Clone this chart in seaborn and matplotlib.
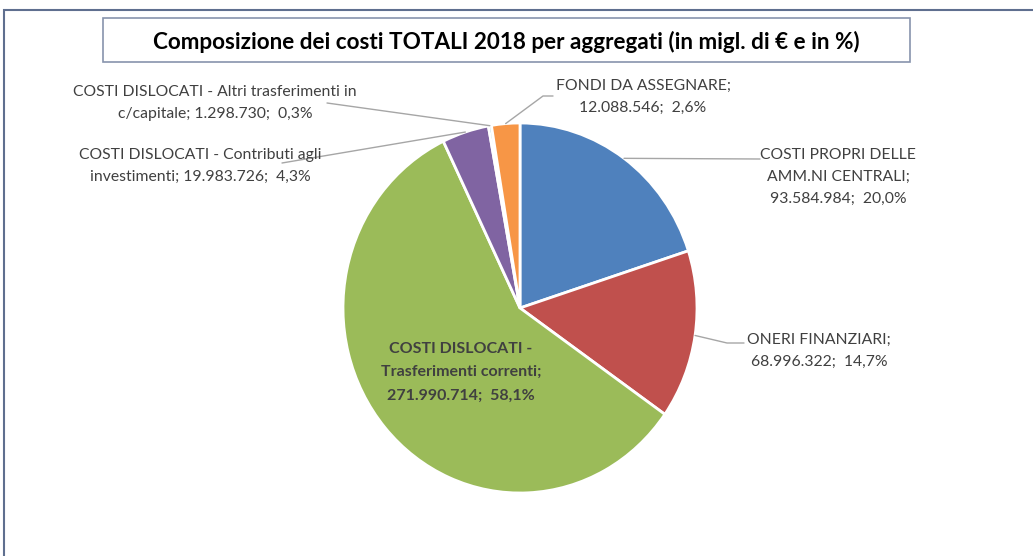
import matplotlib
matplotlib.use('Agg')
import matplotlib.pyplot as plt
import seaborn as sns
import numpy as np
from matplotlib.lines import Line2D
from matplotlib.patches import Rectangle

# dati (migliaia di euro)
categorie = ['COSTI PROPRI DELLE\nAMM.NI CENTRALI', 'ONERI FINANZIARI',
             'COSTI DISLOCATI -\nTrasferimenti correnti',
             'COSTI DISLOCATI - Contributi agli\ninvestimenti',
             'COSTI DISLOCATI - Altri trasferimenti in\nc/capitale',
             'FONDI DA ASSEGNARE']
valori = [93584984, 68996322, 271990714, 19983726, 1298730, 12088546]
colori = ['#4F81BD', '#C0504D', '#9BBB59', '#8064A2', '#4BACC6', '#F79646']
titolo = 'Composizione dei costi TOTALI 2018 per aggregati (in migl. di € e in %)'

sns.set_style('white')
plt.rcParams['font.family'] = ['Lato', 'DejaVu Sans']

W, H = 1033, 556
fig = plt.figure(figsize=(W / 100, H / 100), dpi=100)


def px(x, y):
    # pixel (origine in alto a sinistra) -> frazione della figura
    return x / W, 1 - y / H


def fmt(v):
    return f'{v:,}'.replace(',', '.')


totale = sum(valori)
perc = [v / totale * 100 for v in valori]
testi = []
for c, v, p in zip(categorie, valori, perc):
    ps = f'{p:.1f}'.replace('.', ',')
    if c.startswith('COSTI DISLOCATI - C') or c.startswith('COSTI DISLOCATI - A'):
        # la seconda riga prosegue con valore e percentuale
        t = f'{c}; {fmt(v)};  {ps}%'
    else:
        t = f'{c};\n{fmt(v)};  {ps}%'
    testi.append(t)

# cornice esterna e riquadro del titolo
fig.add_artist(Rectangle(px(4, 600), (1100 - 4) / W, (600 - 10) / H,
                         transform=fig.transFigure, fill=False,
                         edgecolor='#5f6f8f', linewidth=1.5))
fig.add_artist(Rectangle(px(103, 62), (910 - 103) / W, (62 - 18) / H,
                         transform=fig.transFigure, fill=False,
                         edgecolor='#8794ad', linewidth=1.2))
fig.text(*px(506, 42), titolo, ha='center', va='center', fontsize=16.2,
         fontweight='bold', color='black')

# torta (ellittica come nell'originale)
x0, y0 = px(343, 493)
x1, y1 = px(697, 123)
ax = fig.add_axes([x0, y0, x1 - x0, y1 - y0])
wedges, _ = ax.pie(valori, colors=colori, startangle=90, counterclock=False,
                   wedgeprops=dict(edgecolor='white', linewidth=2))
ax.set_aspect('auto')
ax.set_xlim(-1, 1)
ax.set_ylim(-1, 1)
ax.axis('off')

# posizioni etichette e punti delle linee guida (pixel)
pos_testo = [(838, 177), (819, 351), (461, 372), (200, 166), (215, 103), (643, 97)]
guide = [[(760, 159)], [(727, 343), (744, 343)], None,
         [(282, 163)], [(327, 103)], [(543, 96), (553, 96)]]

fig.canvas.draw()
to_fig = fig.transFigure.inverted()
col_testo = '#404040'
for i, w in enumerate(wedges):
    tx, ty = px(*pos_testo[i])
    if guide[i] is None:
        fig.text(tx, ty, testi[i], ha='center', va='center', fontsize=11.5,
                 fontweight='bold', color=col_testo, linespacing=1.85)
        continue
    fig.text(tx, ty, testi[i], ha='center', va='center', fontsize=11.3,
             color=col_testo, linespacing=1.75)
    th = np.deg2rad((w.theta1 + w.theta2) / 2)
    sx, sy = to_fig.transform(ax.transData.transform((np.cos(th), np.sin(th))))
    pts = [(sx, sy)] + [px(*p) for p in guide[i]]
    fig.add_artist(Line2D([p[0] for p in pts], [p[1] for p in pts],
                          transform=fig.transFigure, color='#a6a6a6', linewidth=1))

fig.savefig('out.png', dpi=100)
